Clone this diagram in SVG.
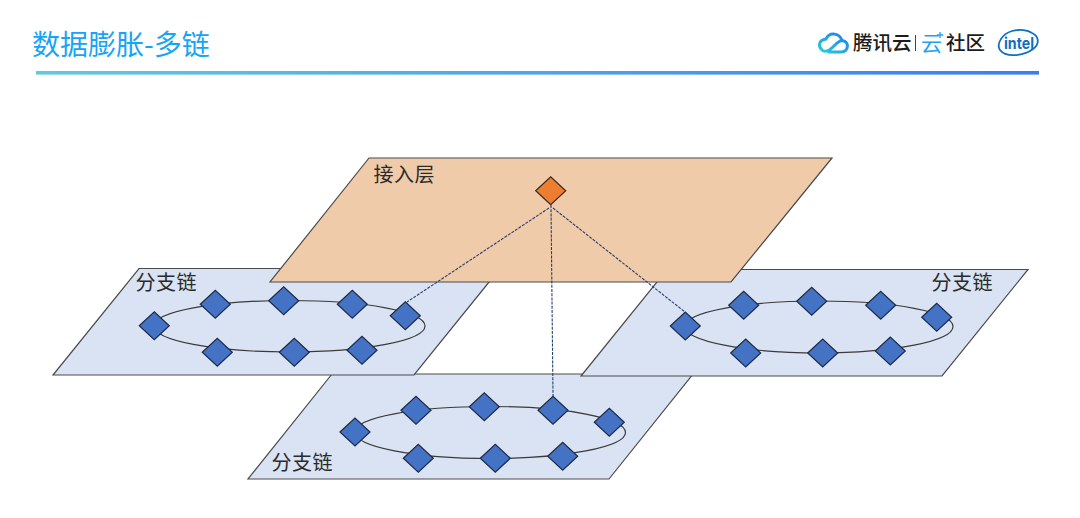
<svg xmlns="http://www.w3.org/2000/svg" width="1080" height="518" viewBox="0 0 1080 518">
<style>
.cjk{font-family:"Noto Sans CJK SC","Noto Sans",sans-serif}
.lbl{font-size:20px;fill:#2a2a2a;letter-spacing:.5px}
.plane{fill:#dae3f3;stroke:#4a4a4a;stroke-width:1.2}
.ring{fill:none;stroke:#3a3a3a;stroke-width:1.2}
.d{fill:#4472c4;stroke:#1f2a44;stroke-width:1.2}
.o{fill:#ed7d31;stroke:#3a2a1a;stroke-width:1.2}
.dash{fill:none;stroke:#24406f;stroke-width:1.100;stroke-dasharray:3 1.2}
</style>
<defs>
<linearGradient id="rule" x1="0" x2="1" y1="0" y2="0"><stop offset="0" stop-color="#5fcbdd"/><stop offset="1" stop-color="#3a7ef6"/></linearGradient>
<linearGradient id="cl" x1="0" x2="1" y1="1" y2="0"><stop offset="0" stop-color="#25d0d8"/><stop offset="1" stop-color="#1f7cf0"/></linearGradient>
<path id="dm" d="M-15 0L0-14L15 0L0 14Z"/>
</defs>
<rect width="1080" height="518" fill="#fff"/>
<g id="header">
<text class="cjk" x="32" y="55" font-size="28" fill="#17a4f6">数据膨胀-多链</text>
<rect x="36" y="71" width="1003" height="3.600" fill="url(#rule)"/>
<path d="M829 52H841.500C849 52 849.500 41 842 40.500C839.500 33 829.500 31.500 826 39C819 40 817.500 46 822 50C825 53 829 51 834 46C837 43 839.500 40.500 842 40.500" fill="none" stroke="url(#cl)" stroke-width="3" stroke-linecap="round"/>
<text class="cjk" x="853" y="50" font-size="19.500" font-weight="500" fill="#1c1c1c">腾讯云</text>
<rect x="915" y="35" width="1" height="16" fill="#444"/>
<text class="cjk" x="921" y="51" font-size="21" fill="#1fa2f0">云</text>
<path d="M940 32V38M937 35H943" stroke="#1fa2f0" stroke-width="1.300" fill="none"/>
<text class="cjk" x="946" y="50" font-size="19.500" font-weight="500" fill="#1c1c1c">社区</text>
<path d="M1032 33C1039 36 1040 44 1033 49C1024 56 1006 58 1000 50C996 44 1002 34 1012 31C1020 29 1028 30 1032 33" fill="none" stroke="#0f6fc0" stroke-width="1.800"/>
<text x="1004" y="49" font-family="Inter,'Liberation Sans',sans-serif" font-size="16" font-weight="700" fill="#0f6fc0" textLength="30" lengthAdjust="spacingAndGlyphs">intel</text>
</g>
<g id="plane-bottom">
<path class="plane" d="M332 374H693L609 479H248Z"/>
<path class="ring" d="M355 432C355 417.500 415 406.500 490 406.500C565 406.500 625.500 418 625.500 432.500C625.500 447 565 458.500 490 458.500C415 458.500 355 447 355 432Z"/>
<use href="#dm" class="d" x="355" y="432"/><use href="#dm" class="d" x="416" y="410.300"/><use href="#dm" class="d" x="484.300" y="406.700"/><use href="#dm" class="d" x="553" y="410.300"/><use href="#dm" class="d" x="609.300" y="422.300"/><use href="#dm" class="d" x="418.300" y="458.300"/><use href="#dm" class="d" x="495.300" y="458.300"/><use href="#dm" class="d" x="562.700" y="456.300"/>
<text class="cjk lbl" x="271.500" y="470">分支链</text>
</g>
<g id="plane-left">
<path class="plane" d="M139 268.500H500L414 375H53Z"/>
<path class="ring" d="M154 326C154 311.500 214 300.500 289.500 300.500C365 300.500 425 311.500 425 326C425 340.500 365 352 289.500 352C214 352 154 340.500 154 326Z"/>
<use href="#dm" class="d" x="154.300" y="325.700"/><use href="#dm" class="d" x="215.300" y="304.300"/><use href="#dm" class="d" x="283.700" y="300.700"/><use href="#dm" class="d" x="352.300" y="304.300"/><use href="#dm" class="d" x="405.300" y="315.700"/><use href="#dm" class="d" x="217.300" y="352.300"/><use href="#dm" class="d" x="294.300" y="352.300"/><use href="#dm" class="d" x="362" y="350.300"/>
<text class="cjk lbl" x="135.500" y="290">分支链</text>
</g>
<g id="plane-right">
<path class="plane" d="M667 269.500H1028L942 376H581Z"/>
<path class="ring" d="M685 326.500C685 312 745 301 819 301C894 301 953 312 953 326.500C953 341 894 353 819 353C745 353 685 341 685 326.500Z"/>
<use href="#dm" class="d" x="685.300" y="326"/><use href="#dm" class="d" x="743.700" y="305.300"/><use href="#dm" class="d" x="811.700" y="301.300"/><use href="#dm" class="d" x="880.700" y="305.300"/><use href="#dm" class="d" x="936.700" y="317.300"/><use href="#dm" class="d" x="745.700" y="353"/><use href="#dm" class="d" x="822.700" y="353"/><use href="#dm" class="d" x="890.300" y="351"/>
<text class="cjk lbl" x="931.500" y="290">分支链</text>
</g>
<g id="plane-access">
<path d="M369 158H832L731 282H270Z" fill="#efcbaa" stroke="#4a4a4a" stroke-width="1.200"/>
<text class="cjk lbl" x="373.500" y="182">接入层</text>
</g>
<g id="connectors">
<path class="dash" d="M549 208L407 302"/>
<path class="dash" d="M551 205L553 396"/>
<path class="dash" d="M553 208L685 312"/>
</g>
<g id="node-access"><use href="#dm" class="o" x="550.700" y="190.700"/></g>
</svg>
